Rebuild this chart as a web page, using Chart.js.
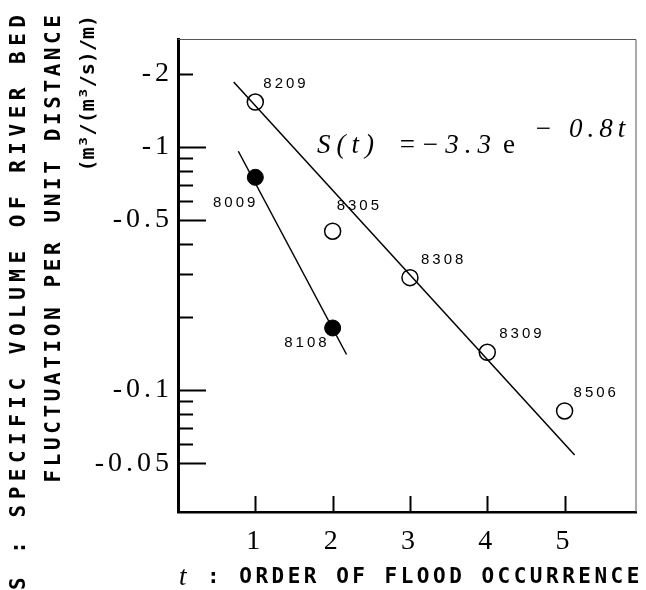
<!DOCTYPE html>
<html>
<head>
<meta charset="utf-8">
<script src="https://cdn.jsdelivr.net/npm/chart.js@4.4.1/dist/chart.umd.min.js"></script>
<style>
  html, body { margin: 0; padding: 0; background: #fff; }
</style>
</head>
<body>
<canvas id="myChart" width="646" height="590"></canvas>
<script>
// floods on the upper line (open circles)
const openT = [1, 2, 3, 4, 5];
const openS = [-1.53, -0.45, -0.29, -0.143, -0.082];
const openNames = ["8209", "8305", "8308", "8309", "8506"];

// floods on the lower line (filled circles)
const fillT = [1, 2];
const fillS = [-0.75, -0.18];
const fillNames = ["8009", "8108"];

// end points of the fitted lines, S(t) = -3.3e^(-0.8t) for the upper one
const fitOpenT = [0.72, 5.13];
const fitOpenS = [-1.85, -0.054];
const fitFillT = [0.78, 2.18];
const fitFillS = [-0.96, -0.14];

// axis ticks
const xTicks = [1, 2, 3, 4, 5];
const yTicks = [-2, -1, -0.5, -0.1, -0.05];
const yLongMarks = [-1, -0.5, -0.1, -0.05];
const yShortMarks = [-2, -0.9, -0.8, -0.7, -0.6, -0.4, -0.3, -0.2, -0.09, -0.08, -0.07, -0.06];

// log axis works on the size of S, so points are plotted as -S
function toPoints(ts, ss) {
  return ts.map((t, i) => ({ x: t, y: -ss[i] }));
}

// labels next to each point: [dx, dy, align]
const openLabelPos = [[8, -18, "left"], [4, -25, "left"], [11, -18, "left"], [12, -18, "left"], [9, -18, "left"]];
const fillLabelPos = [[3, 26, "right"], [-3, 15, "right"]];

const paperPlugin = {
  id: "paper",
  beforeDraw(chart) {
    chart.ctx.letterSpacing = "4px";
  },
  afterDraw(chart) {
    const { ctx, chartArea: a, scales } = chart;
    const xs = scales.x;
    const ys = scales.y;
    ctx.save();
    ctx.letterSpacing = "0px";

    // thin frame on top and right
    ctx.strokeStyle = "#555";
    ctx.lineWidth = 1;
    ctx.beginPath();
    ctx.moveTo(a.left, a.top + 0.5);
    ctx.lineTo(a.right - 0.5, a.top + 0.5);
    ctx.lineTo(a.right - 0.5, a.bottom);
    ctx.stroke();

    // tick marks pointing inwards
    ctx.strokeStyle = "#000";
    ctx.lineWidth = 2;
    ctx.beginPath();
    yLongMarks.forEach((v) => {
      const py = Math.round(ys.getPixelForValue(-v)) + 0.5;
      ctx.moveTo(a.left, py);
      ctx.lineTo(a.left + 28, py);
    });
    yShortMarks.forEach((v) => {
      const py = Math.round(ys.getPixelForValue(-v)) + 0.5;
      ctx.moveTo(a.left, py);
      ctx.lineTo(a.left + 15, py);
    });
    xTicks.forEach((v) => {
      const px = Math.round(xs.getPixelForValue(v)) + 0.5;
      ctx.moveTo(px, a.bottom);
      ctx.lineTo(px, a.bottom - 16);
    });
    ctx.stroke();

    // flood numbers
    ctx.fillStyle = "#000";
    ctx.font = "15px 'Liberation Sans'";
    ctx.letterSpacing = "3px";
    ctx.textBaseline = "middle";
    const labelSet = (dsIndex, names, pos) => {
      const meta = chart.getDatasetMeta(dsIndex);
      meta.data.forEach((pt, i) => {
        ctx.textAlign = pos[i][2];
        ctx.fillText(names[i], pt.x + pos[i][0], pt.y + pos[i][1]);
      });
    };
    labelSet(0, openNames, openLabelPos);
    labelSet(1, fillNames, fillLabelPos);

    // fitted equation
    const fx = a.left + 139;
    const fy = a.top + 114;
    ctx.textBaseline = "alphabetic";
    ctx.textAlign = "left";
    ctx.letterSpacing = "6px";
    ctx.font = "italic 27px 'Liberation Serif'";
    ctx.fillText("S(t)", fx, fy);
    ctx.fillText("=", fx + 81, fy);
    ctx.fillText("\u22123.3", fx + 104, fy);
    ctx.font = "27px 'Liberation Serif'";
    ctx.fillText("e", fx + 186, fy);
    ctx.letterSpacing = "5px";
    ctx.font = "italic 27px 'Liberation Serif'";
    ctx.fillText("\u2212 0.8t", fx + 217, fy - 16);

    // y axis title, three rotated lines reading upwards
    ctx.textAlign = "right";
    ctx.textBaseline = "middle";
    const yTitle = [
      ["S : SPECIFIC VOLUME OF RIVER BED", 20, 5.5, 21],
      ["FLUCTUATION PER UNIT DISTANCE", 55, 3.6, 21],
      ["(m\u00b3/(m\u00b3/s)/m)", 89, 0, 20],
    ];
    yTitle.forEach(([txt, cx, sp, size]) => {
      ctx.save();
      ctx.font = "bold " + size + "px 'DejaVu Sans Mono'";
      ctx.letterSpacing = sp + "px";
      ctx.translate(cx, 15);
      ctx.rotate(-Math.PI / 2);
      ctx.fillText(txt, sp, 0);
      ctx.restore();
    });

    // x axis title
    ctx.textBaseline = "middle";
    ctx.textAlign = "left";
    ctx.letterSpacing = "0px";
    ctx.font = "italic 27px 'Liberation Serif'";
    ctx.fillText("t", a.left + 1, 578);
    ctx.letterSpacing = "3.5px";
    ctx.font = "bold 21px 'DejaVu Sans Mono'";
    ctx.fillText(": ORDER OF FLOOD OCCURRENCE", a.left + 29, 578);

    ctx.restore();
  },
};

const ctx = document.getElementById("myChart").getContext("2d");
const myChart = new Chart(ctx, {
  type: "scatter",
  data: {
    datasets: [
      {
        data: toPoints(openT, openS),
        pointRadius: 8,
        pointBackgroundColor: "rgba(0,0,0,0)",
        pointBorderColor: "#000",
        pointBorderWidth: 1.5,
        showLine: false,
      },
      {
        data: toPoints(fillT, fillS),
        pointRadius: 8,
        pointBackgroundColor: "#000",
        pointBorderColor: "#000",
        pointBorderWidth: 1,
        showLine: false,
      },
      {
        data: toPoints(fitOpenT, fitOpenS),
        showLine: true,
        pointRadius: 0,
        borderColor: "#000",
        borderWidth: 1.5,
      },
      {
        data: toPoints(fitFillT, fitFillS),
        showLine: true,
        pointRadius: 0,
        borderColor: "#000",
        borderWidth: 1.5,
      },
    ],
  },
  options: {
    responsive: false,
    animation: false,
    layout: { padding: { top: 39, right: 3, left: 0, bottom: 0 } },
    plugins: {
      legend: { display: false },
      tooltip: { enabled: false },
    },
    scales: {
      x: {
        type: "linear",
        min: 0,
        max: 5.93,
        grid: { display: false, drawTicks: false },
        border: { display: true, color: "#000", width: 2.5 },
        afterBuildTicks: (scale) => {
          scale.ticks = xTicks.map((v) => ({ value: v }));
        },
        afterFit: (scale) => {
          scale.height = 78;
        },
        ticks: {
          autoSkip: false,
          maxRotation: 0,
          padding: 13,
          color: "#000",
          font: { family: "'Liberation Serif'", size: 28 },
        },
      },
      y: {
        type: "logarithmic",
        min: 0.0315,
        max: 2.78,
        grid: { display: false, drawTicks: false },
        border: { display: true, color: "#000", width: 3 },
        afterBuildTicks: (scale) => {
          scale.ticks = yTicks.map((v) => ({ value: -v }));
        },
        afterFit: (scale) => {
          scale.width = 178;
        },
        ticks: {
          autoSkip: false,
          padding: 5,
          color: "#000",
          font: { family: "'Liberation Serif'", size: 28 },
          callback: (v) => String(-v),
        },
      },
    },
  },
  plugins: [paperPlugin],
});
</script>
</body>
</html>
